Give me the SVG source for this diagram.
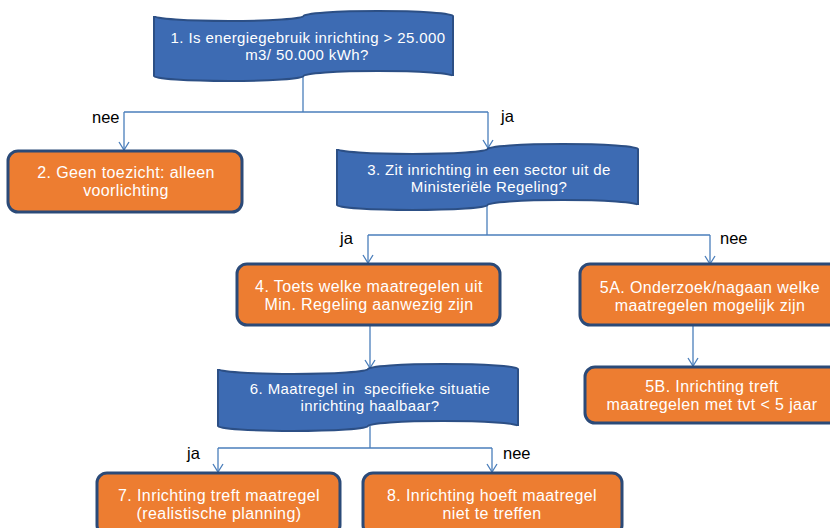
<svg xmlns="http://www.w3.org/2000/svg" width="830" height="528" viewBox="0 0 830 528">
<defs>
<style>
.tape{fill:#3D6BB3;stroke:#2C4F85;stroke-width:2}
.box{fill:#ED7D31;stroke:#2B4A78;stroke-width:3}
.t{font-family:"Liberation Sans",Arial,sans-serif;font-size:15px;letter-spacing:0.4px;fill:#FFFFFF;text-anchor:middle;white-space:pre}
.o{font-size:16px}
.lbl{font-family:"Liberation Sans",Arial,sans-serif;font-size:16.5px;fill:#000000}
.c{fill:none;stroke:#4A7EBB;stroke-width:1.3}
.arr{marker-end:url(#ah)}
</style>
<marker id="ah" markerUnits="userSpaceOnUse" markerWidth="12" markerHeight="12" refX="0" refY="0" viewBox="-9 -6 10 12" orient="auto">
<path d="M-8,-5 L0,0 L-8,5" fill="none" stroke="#4A7EBB" stroke-width="1.3"/>
</marker>
</defs>
<g id="connectors">
<path class="c" d="M303,76 V112"/>
<path class="c" d="M124,112 H488"/>
<path class="c arr" d="M124,112 V150"/>
<path class="c arr" d="M488,112 V148"/>
<path class="c" d="M487,205 V235"/>
<path class="c" d="M368,235 H710"/>
<path class="c arr" d="M368,235 V263"/>
<path class="c arr" d="M710,235 V264"/>
<path class="c arr" d="M693,325 V366"/>
<path class="c arr" d="M370,325 V368"/>
<path class="c" d="M370,426 V448"/>
<path class="c" d="M218,448 H492"/>
<path class="c arr" d="M218,448 V472"/>
<path class="c arr" d="M492,448 V472"/>
</g>
<g id="labels">
<text class="lbl" x="92" y="123">nee</text>
<text class="lbl" x="501" y="122">ja</text>
<text class="lbl" x="340" y="244">ja</text>
<text class="lbl" x="720" y="244">nee</text>
<text class="lbl" x="187" y="459">ja</text>
<text class="lbl" x="503" y="459">nee</text>
</g>
<g id="node1">
<path class="tape" d="M154,16 A74.75,5 0 0 0 303.5,16 A74.75,5 0 0 1 453,16 L453,76 A74.75,5 0 0 0 303.5,76 A74.75,5 0 0 1 154,76 Z"/>
<text class="t" x="308" y="43">1. Is energiegebruik inrichting &gt; 25.000</text>
<text class="t" x="307" y="60">m3/ 50.000 kWh?</text>
</g>
<g id="node2">
<rect class="box" x="8" y="151" width="234" height="61" rx="10"/>
<text class="t o" x="126" y="178">2. Geen toezicht: alleen</text>
<text class="t o" x="126" y="196">voorlichting</text>
</g>
<g id="node3">
<path class="tape" d="M337,149 A75.25,5 0 0 0 487.5,149 A75.25,5 0 0 1 638,149 L638,205 A75.25,5 0 0 0 487.5,205 A75.25,5 0 0 1 337,205 Z"/>
<text class="t" x="489" y="175">3. Zit inrichting in een sector uit de</text>
<text class="t" x="489" y="192">Ministeriële Regeling?</text>
</g>
<g id="node4">
<rect class="box" x="237" y="264" width="263" height="61" rx="10"/>
<text class="t o" x="369" y="292">4. Toets welke maatregelen uit</text>
<text class="t o" x="369" y="310">Min. Regeling aanwezig zijn</text>
</g>
<g id="node5A">
<rect class="box" x="580" y="264" width="262" height="61" rx="10"/>
<text class="t o" x="710" y="293">5A. Onderzoek/nagaan welke</text>
<text class="t o" x="710" y="311">maatregelen mogelijk zijn</text>
</g>
<g id="node5B">
<rect class="box" x="585" y="367" width="257" height="56" rx="10"/>
<text class="t o" x="712" y="392">5B. Inrichting treft</text>
<text class="t o" x="712" y="410">maatregelen met tvt &lt; 5 jaar</text>
</g>
<g id="node6">
<path class="tape" d="M218,369 A75,5 0 0 0 368,369 A75,5 0 0 1 518,369 L518,426 A75,5 0 0 0 368,426 A75,5 0 0 1 218,426 Z"/>
<text class="t" x="370" y="394">6. Maatregel in  specifieke situatie</text>
<text class="t" x="370" y="411">inrichting haalbaar?</text>
</g>
<g id="node7">
<rect class="box" x="97" y="473" width="243" height="62" rx="10"/>
<text class="t o" x="219" y="501">7. Inrichting treft maatregel</text>
<text class="t o" x="219" y="519">(realistische planning)</text>
</g>
<g id="node8">
<rect class="box" x="363" y="473" width="259" height="62" rx="10"/>
<text class="t o" x="492" y="501">8. Inrichting hoeft maatregel</text>
<text class="t o" x="492" y="519">niet te treffen</text>
</g>
</svg>
